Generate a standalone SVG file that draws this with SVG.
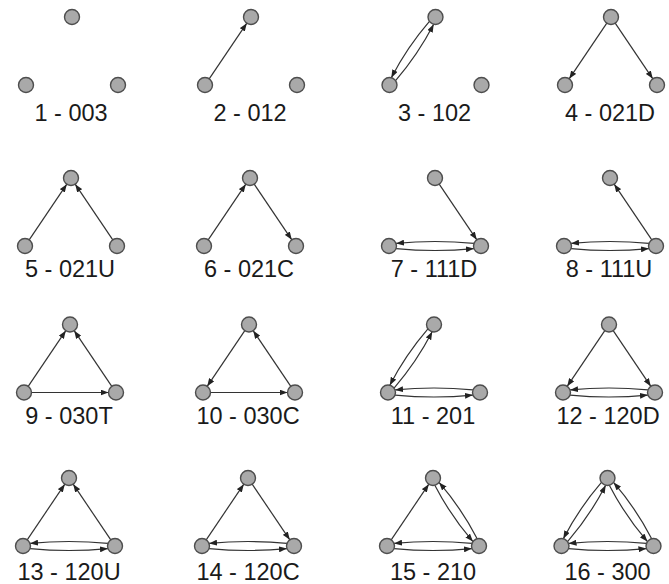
<svg xmlns="http://www.w3.org/2000/svg" width="669" height="584" viewBox="0 0 669 584">
<style>
.node circle{fill:#a9a9a9;stroke:#4d4d4d;stroke-width:1.4}
.edge{fill:none;stroke:#333;stroke-width:1.2;marker-end:url(#ah)}
.lbl{font-family:"Liberation Sans",Arial,Helvetica,sans-serif;font-size:23.5px;fill:#1a1a1a;text-anchor:middle}
</style>
<defs>
<marker id="ah" markerUnits="userSpaceOnUse" markerWidth="8" markerHeight="6" refX="8" refY="3" orient="auto">
<path d="M0,0 L8,3 L0,6 z" fill="#222"/>
</marker>
</defs>
<rect width="669" height="584" fill="#fff"/>

<g id="connectors">
<g transform="translate(251,17)"><path class="edge" d="M-41.8,61.8 L-4.2,6.2"/></g>
<g transform="translate(435.5,17)"><path class="edge" d="M-39.93,63.6 Q-17.56,37.68 -1.82,7.28"/><path class="edge" d="M-6.07,4.4 Q-28.44,30.32 -44.18,60.72"/></g>
<g transform="translate(611,17)"><path class="edge" d="M-4.2,6.2 L-41.8,61.8"/><path class="edge" d="M4.2,6.2 L41.8,61.8"/></g>
<g transform="translate(71,178)"><path class="edge" d="M-41.8,61.8 L-4.2,6.2"/><path class="edge" d="M41.8,61.8 L4.2,6.2"/></g>
<g transform="translate(250,178)"><path class="edge" d="M-41.8,61.8 L-4.2,6.2"/><path class="edge" d="M4.2,6.2 L41.8,61.8"/></g>
<g transform="translate(435,178)"><path class="edge" d="M4.2,6.2 L41.8,61.8"/><path class="edge" d="M-38.95,70.57 Q0,74.4 38.95,70.57"/><path class="edge" d="M38.95,65.43 Q0,61.6 -38.95,65.43"/></g>
<g transform="translate(610,178)"><path class="edge" d="M41.8,61.8 L4.2,6.2"/><path class="edge" d="M-38.95,70.57 Q0,74.4 38.95,70.57"/><path class="edge" d="M38.95,65.43 Q0,61.6 -38.95,65.43"/></g>
<g transform="translate(70,324.5)"><path class="edge" d="M-41.8,61.8 L-4.2,6.2"/><path class="edge" d="M41.8,61.8 L4.2,6.2"/><path class="edge" d="M-38.5,68 L38.5,68"/></g>
<g transform="translate(249,324.5)"><path class="edge" d="M-4.2,6.2 L-41.8,61.8"/><path class="edge" d="M-38.5,68 L38.5,68"/><path class="edge" d="M41.8,61.8 L4.2,6.2"/></g>
<g transform="translate(434,324.5)"><path class="edge" d="M-39.93,63.6 Q-17.56,37.68 -1.82,7.28"/><path class="edge" d="M-6.07,4.4 Q-28.44,30.32 -44.18,60.72"/><path class="edge" d="M-38.95,70.57 Q0,74.4 38.95,70.57"/><path class="edge" d="M38.95,65.43 Q0,61.6 -38.95,65.43"/></g>
<g transform="translate(609,324.5)"><path class="edge" d="M-4.2,6.2 L-41.8,61.8"/><path class="edge" d="M4.2,6.2 L41.8,61.8"/><path class="edge" d="M-38.95,70.57 Q0,74.4 38.95,70.57"/><path class="edge" d="M38.95,65.43 Q0,61.6 -38.95,65.43"/></g>
<g transform="translate(69,478)"><path class="edge" d="M-41.8,61.8 L-4.2,6.2"/><path class="edge" d="M41.8,61.8 L4.2,6.2"/><path class="edge" d="M-38.95,70.57 Q0,74.4 38.95,70.57"/><path class="edge" d="M38.95,65.43 Q0,61.6 -38.95,65.43"/></g>
<g transform="translate(248,478)"><path class="edge" d="M-41.8,61.8 L-4.2,6.2"/><path class="edge" d="M4.2,6.2 L41.8,61.8"/><path class="edge" d="M-38.95,70.57 Q0,74.4 38.95,70.57"/><path class="edge" d="M38.95,65.43 Q0,61.6 -38.95,65.43"/></g>
<g transform="translate(433,478)"><path class="edge" d="M-41.8,61.8 L-4.2,6.2"/><path class="edge" d="M44.18,60.72 Q28.44,30.32 6.07,4.4"/><path class="edge" d="M1.82,7.28 Q17.56,37.68 39.93,63.6"/><path class="edge" d="M-38.95,70.57 Q0,74.4 38.95,70.57"/><path class="edge" d="M38.95,65.43 Q0,61.6 -38.95,65.43"/></g>
<g transform="translate(607.5,478)"><path class="edge" d="M-39.93,63.6 Q-17.56,37.68 -1.82,7.28"/><path class="edge" d="M-6.07,4.4 Q-28.44,30.32 -44.18,60.72"/><path class="edge" d="M44.18,60.72 Q28.44,30.32 6.07,4.4"/><path class="edge" d="M1.82,7.28 Q17.56,37.68 39.93,63.6"/><path class="edge" d="M-38.95,70.57 Q0,74.4 38.95,70.57"/><path class="edge" d="M38.95,65.43 Q0,61.6 -38.95,65.43"/></g>
</g>

<g id="p1" transform="translate(72,17)"><g id="p1-a" class="node"><circle cx="0" cy="0" r="7.5"/></g><g id="p1-b" class="node"><circle cx="-46" cy="68" r="7.5"/></g><g id="p1-c" class="node"><circle cx="46" cy="68" r="7.5"/></g><text class="lbl" x="-1" y="103.5">1 - 003</text></g>
<g id="p2" transform="translate(251,17)"><g id="p2-a" class="node"><circle cx="0" cy="0" r="7.5"/></g><g id="p2-b" class="node"><circle cx="-46" cy="68" r="7.5"/></g><g id="p2-c" class="node"><circle cx="46" cy="68" r="7.5"/></g><text class="lbl" x="-1" y="103.5">2 - 012</text></g>
<g id="p3" transform="translate(435.5,17)"><g id="p3-a" class="node"><circle cx="0" cy="0" r="7.5"/></g><g id="p3-b" class="node"><circle cx="-46" cy="68" r="7.5"/></g><g id="p3-c" class="node"><circle cx="46" cy="68" r="7.5"/></g><text class="lbl" x="-1" y="103.5">3 - 102</text></g>
<g id="p4" transform="translate(611,17)"><g id="p4-a" class="node"><circle cx="0" cy="0" r="7.5"/></g><g id="p4-b" class="node"><circle cx="-46" cy="68" r="7.5"/></g><g id="p4-c" class="node"><circle cx="46" cy="68" r="7.5"/></g><text class="lbl" x="-1" y="103.5">4 - 021D</text></g>

<g id="p5" transform="translate(71,178)"><g id="p5-a" class="node"><circle cx="0" cy="0" r="7.5"/></g><g id="p5-b" class="node"><circle cx="-46" cy="68" r="7.5"/></g><g id="p5-c" class="node"><circle cx="46" cy="68" r="7.5"/></g><text class="lbl" x="-1" y="99">5 - 021U</text></g>
<g id="p6" transform="translate(250,178)"><g id="p6-a" class="node"><circle cx="0" cy="0" r="7.5"/></g><g id="p6-b" class="node"><circle cx="-46" cy="68" r="7.5"/></g><g id="p6-c" class="node"><circle cx="46" cy="68" r="7.5"/></g><text class="lbl" x="-1" y="99">6 - 021C</text></g>
<g id="p7" transform="translate(435,178)"><g id="p7-a" class="node"><circle cx="0" cy="0" r="7.5"/></g><g id="p7-b" class="node"><circle cx="-46" cy="68" r="7.5"/></g><g id="p7-c" class="node"><circle cx="46" cy="68" r="7.5"/></g><text class="lbl" x="-1" y="99">7 - 111D</text></g>
<g id="p8" transform="translate(610,178)"><g id="p8-a" class="node"><circle cx="0" cy="0" r="7.5"/></g><g id="p8-b" class="node"><circle cx="-46" cy="68" r="7.5"/></g><g id="p8-c" class="node"><circle cx="46" cy="68" r="7.5"/></g><text class="lbl" x="-1" y="99">8 - 111U</text></g>

<g id="p9" transform="translate(70,324.5)"><g id="p9-a" class="node"><circle cx="0" cy="0" r="7.5"/></g><g id="p9-b" class="node"><circle cx="-46" cy="68" r="7.5"/></g><g id="p9-c" class="node"><circle cx="46" cy="68" r="7.5"/></g><text class="lbl" x="-1" y="99">9 - 030T</text></g>
<g id="p10" transform="translate(249,324.5)"><g id="p10-a" class="node"><circle cx="0" cy="0" r="7.5"/></g><g id="p10-b" class="node"><circle cx="-46" cy="68" r="7.5"/></g><g id="p10-c" class="node"><circle cx="46" cy="68" r="7.5"/></g><text class="lbl" x="-1" y="99">10 - 030C</text></g>
<g id="p11" transform="translate(434,324.5)"><g id="p11-a" class="node"><circle cx="0" cy="0" r="7.5"/></g><g id="p11-b" class="node"><circle cx="-46" cy="68" r="7.5"/></g><g id="p11-c" class="node"><circle cx="46" cy="68" r="7.5"/></g><text class="lbl" x="-1" y="99">11 - 201</text></g>
<g id="p12" transform="translate(609,324.5)"><g id="p12-a" class="node"><circle cx="0" cy="0" r="7.5"/></g><g id="p12-b" class="node"><circle cx="-46" cy="68" r="7.5"/></g><g id="p12-c" class="node"><circle cx="46" cy="68" r="7.5"/></g><text class="lbl" x="-1" y="99">12 - 120D</text></g>

<g id="p13" transform="translate(69,478)"><g id="p13-a" class="node"><circle cx="0" cy="0" r="7.5"/></g><g id="p13-b" class="node"><circle cx="-46" cy="68" r="7.5"/></g><g id="p13-c" class="node"><circle cx="46" cy="68" r="7.5"/></g><text class="lbl" x="0" y="102">13 - 120U</text></g>
<g id="p14" transform="translate(248,478)"><g id="p14-a" class="node"><circle cx="0" cy="0" r="7.5"/></g><g id="p14-b" class="node"><circle cx="-46" cy="68" r="7.5"/></g><g id="p14-c" class="node"><circle cx="46" cy="68" r="7.5"/></g><text class="lbl" x="0" y="102">14 - 120C</text></g>
<g id="p15" transform="translate(433,478)"><g id="p15-a" class="node"><circle cx="0" cy="0" r="7.5"/></g><g id="p15-b" class="node"><circle cx="-46" cy="68" r="7.5"/></g><g id="p15-c" class="node"><circle cx="46" cy="68" r="7.5"/></g><text class="lbl" x="0" y="102">15 - 210</text></g>
<g id="p16" transform="translate(607.5,478)"><g id="p16-a" class="node"><circle cx="0" cy="0" r="7.5"/></g><g id="p16-b" class="node"><circle cx="-46" cy="68" r="7.5"/></g><g id="p16-c" class="node"><circle cx="46" cy="68" r="7.5"/></g><text class="lbl" x="0" y="102">16 - 300</text></g>
</svg>
